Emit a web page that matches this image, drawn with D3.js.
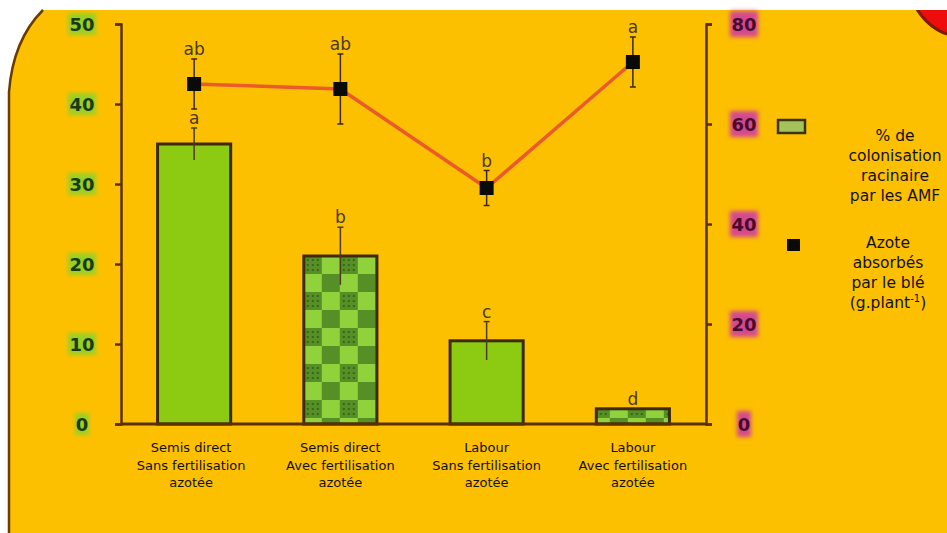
<!DOCTYPE html>
<html>
<head>
<meta charset="utf-8">
<script src="https://cdn.jsdelivr.net/npm/d3@7"></script>
<style>
html,body{margin:0;padding:0;background:#fff;}
svg{display:block;}
</style>
</head>
<body>
<script>
// ---- data ----
const categories = [
  ["Semis direct", "Sans fertilisation", "azotée"],
  ["Semis direct", "Avec fertilisation", "azotée"],
  ["Labour", "Sans fertilisation", "azotée"],
  ["Labour", "Avec fertilisation", "azotée"]
];
const colonisation = [35, 21, 10.4, 1.9];
const colonisationErr = [2, 3.6, 2.4, 0];
const colonisationLetters = ["a", "b", "c", "d"];
const barPatterned = [false, true, false, true];
const azote = [68, 67, 47.2, 72.4];
const azoteErr = [5, 7, 3.5, 5];
const azoteLetters = ["ab", "ab", "b", "a"];
const leftTicks = [0, 10, 20, 30, 40, 50];
const rightTicks = [0, 20, 40, 60, 80];
const legend1 = ["% de", "colonisation", "racinaire", "par les AMF"];
const legend2 = ["Azote", "absorbés", "par le blé"];

const W = 947, H = 533;
const svg = d3.select("body").append("svg").attr("width", W).attr("height", H);
const defs = svg.append("defs");

// filters
const blur = defs.append("filter").attr("id", "blur").attr("x", "-50%").attr("y", "-50%").attr("width", "200%").attr("height", "200%");
blur.append("feGaussianBlur").attr("stdDeviation", 2);
const blurS = defs.append("filter").attr("id", "blurS").attr("x", "-50%").attr("y", "-50%").attr("width", "200%").attr("height", "200%");
blurS.append("feGaussianBlur").attr("stdDeviation", 0.6);

// background
svg.append("rect").attr("width", W).attr("height", H).attr("fill", "#ffffff");
svg.append("path")
  .attr("d", "M9,533 L9,92 Q13,40 43,10 L947,10 L947,533 Z")
  .attr("fill", "#FDC000");
svg.append("circle").attr("cx", 965).attr("cy", -18).attr("r", 55)
  .attr("fill", "#ee1010").attr("stroke", "#7a1a00").attr("stroke-width", 3).attr("filter", "url(#blurS)");
svg.append("rect").attr("x", 0).attr("y", 0).attr("width", W).attr("height", 10).attr("fill", "#ffffff");
svg.append("path")
  .attr("d", "M9,533 L9,92 Q13,40 43,10")
  .attr("fill", "none").attr("stroke", "#6b3c00").attr("stroke-width", 2.5);

// scales
const x = d3.scaleBand().domain(d3.range(categories.length)).range([121, 706]).paddingInner(0.5).paddingOuter(0.25);
const yL = d3.scaleLinear().domain([0, 50]).range([424, 24]);
const yR = d3.scaleLinear().domain([0, 80]).range([424, 24]);

// checkerboard pattern
const cell = 18;
const pat = defs.append("pattern").attr("id", "checker").attr("patternUnits", "userSpaceOnUse")
  .attr("width", cell * 2).attr("height", cell * 2).attr("x", x(1)).attr("y", yL(colonisation[1]));
pat.append("rect").attr("width", cell * 2).attr("height", cell * 2).attr("fill", "#8fd23c");
pat.append("rect").attr("x", 0).attr("y", 0).attr("width", cell).attr("height", cell).attr("fill", "#558f25");
pat.append("rect").attr("x", cell).attr("y", cell).attr("width", cell).attr("height", cell).attr("fill", "#558f25");
for (let i = 0; i < 3; i++) for (let j = 0; j < 3; j++) {
  pat.append("circle").attr("cx", 4 + i * 5).attr("cy", 4 + j * 5).attr("r", 1).attr("fill", "#2f5a15");
}

// bars
const g = svg.append("g");
g.selectAll("rect.bar").data(colonisation).join("rect")
  .attr("class", "bar")
  .attr("x", (d, i) => x(i))
  .attr("y", d => yL(d))
  .attr("width", x.bandwidth())
  .attr("height", d => yL(0) - yL(d))
  .attr("fill", (d, i) => barPatterned[i] ? "url(#checker)" : "#8ccb12")
  .attr("stroke", "#3d2a0c").attr("stroke-width", 3);

// bar error bars
const cx = i => x(i) + x.bandwidth() / 2;
colonisation.forEach((d, i) => {
  if (colonisationErr[i] > 0) {
    g.append("line").attr("x1", cx(i)).attr("x2", cx(i))
      .attr("y1", yL(d + colonisationErr[i])).attr("y2", yL(d - colonisationErr[i]))
      .attr("stroke", "#4a3a20").attr("stroke-width", 1.5);
    g.append("line").attr("x1", cx(i) - 3).attr("x2", cx(i) + 3)
      .attr("y1", yL(d + colonisationErr[i])).attr("y2", yL(d + colonisationErr[i]))
      .attr("stroke", "#4a3a20").attr("stroke-width", 1.5);
  }
  g.append("text").attr("x", cx(i)).attr("y", yL(d + colonisationErr[i]) - 4)
    .attr("text-anchor", "middle").attr("font-family", "DejaVu Sans, sans-serif")
    .attr("font-size", 17).attr("fill", "#4a3818").text(colonisationLetters[i]);
});

// axes
const axL = d3.axisLeft(yL).tickValues(leftTicks).tickFormat("").tickSize(6).tickSizeOuter(6);
const axR = d3.axisRight(yR).tickValues(rightTicks).tickFormat("").tickSize(6).tickSizeOuter(6);
const gL = svg.append("g").attr("transform", "translate(121,0)").call(axL);
const gR = svg.append("g").attr("transform", "translate(706,0)").call(axR);
[gL, gR].forEach(a => {
  a.selectAll("path,line").attr("stroke", "#5a3000").attr("stroke-width", 2.5);
});
svg.append("line").attr("x1", 121).attr("x2", 706).attr("y1", 424).attr("y2", 424)
  .attr("stroke", "#5a3000").attr("stroke-width", 3);

// left tick labels (green glow)
leftTicks.forEach(t => {
  const w = t === 0 ? 14 : 28;
  svg.append("rect").attr("x", 82 - w / 2).attr("y", yL(t) - 11).attr("width", w).attr("height", 22)
    .attr("fill", "#8fd12a").attr("filter", "url(#blur)").attr("opacity", 0.9);
  svg.append("text").attr("x", 82).attr("y", yL(t) + 6.5).attr("text-anchor", "middle")
    .attr("font-family", "DejaVu Sans, sans-serif").attr("font-weight", "bold").attr("font-size", 18)
    .attr("fill", "#1c3a12").text(t);
});
// right tick labels (pink box)
rightTicks.forEach(t => {
  const w = t === 0 ? 14 : 28;
  svg.append("rect").attr("x", 744 - w / 2).attr("y", yR(t) - 13).attr("width", w).attr("height", 26)
    .attr("fill", "#d44a8e").attr("filter", "url(#blur)");
  svg.append("text").attr("x", 744).attr("y", yR(t) + 6.5).attr("text-anchor", "middle")
    .attr("font-family", "DejaVu Sans, sans-serif").attr("font-weight", "bold").attr("font-size", 18)
    .attr("fill", "#4a0a2a").text(t);
});

// line series
const line = d3.line().x((d, i) => cx(i)).y(d => yR(d));
svg.append("path").datum(azote).attr("d", line).attr("fill", "none")
  .attr("stroke", "#ea5a2a").attr("stroke-width", 3.5);
azote.forEach((d, i) => {
  svg.append("line").attr("x1", cx(i)).attr("x2", cx(i))
    .attr("y1", yR(d + azoteErr[i])).attr("y2", yR(d - azoteErr[i]))
    .attr("stroke", "#3a2a18").attr("stroke-width", 1.5);
  [d + azoteErr[i], d - azoteErr[i]].forEach(v => {
    svg.append("line").attr("x1", cx(i) - 3).attr("x2", cx(i) + 3).attr("y1", yR(v)).attr("y2", yR(v))
      .attr("stroke", "#3a2a18").attr("stroke-width", 1.5);
  });
  svg.append("rect").attr("x", cx(i) - 7).attr("y", yR(d) - 7).attr("width", 14).attr("height", 14)
    .attr("fill", "#0a0a0a");
  svg.append("text").attr("x", cx(i)).attr("y", yR(d + azoteErr[i]) - 4)
    .attr("text-anchor", "middle").attr("font-family", "DejaVu Sans, sans-serif")
    .attr("font-size", 17).attr("fill", "#4a3818").text(azoteLetters[i]);
});

// category labels
categories.forEach((lines, i) => {
  const t = svg.append("text").attr("text-anchor", "middle")
    .attr("font-family", "DejaVu Sans, Verdana, sans-serif").attr("font-size", 13).attr("fill", "#111");
  lines.forEach((s, k) => {
    t.append("tspan").attr("x", cx(i) - (i === 0 ? 3 : 0)).attr("y", 452 + k * 17.5).text(s);
  });
});

// legend
svg.append("rect").attr("x", 778).attr("y", 120).attr("width", 27).attr("height", 13)
  .attr("fill", "#a6c25c").attr("stroke", "#3a3510").attr("stroke-width", 2.5);
const lt1 = svg.append("text").attr("text-anchor", "middle")
  .attr("font-family", "DejaVu Sans, Verdana, sans-serif").attr("font-size", 15.5).attr("fill", "#111");
legend1.forEach((s, k) => lt1.append("tspan").attr("x", 895).attr("y", 141 + k * 20).text(s));

svg.append("line").attr("x1", 780).attr("x2", 808).attr("y1", 245).attr("y2", 245)
  .attr("stroke", "#e0501a").attr("stroke-width", 3).attr("filter", "url(#blurS)");
svg.append("rect").attr("x", 787).attr("y", 239).attr("width", 13).attr("height", 12).attr("fill", "#0a0a0a");
const lt2 = svg.append("text").attr("text-anchor", "middle")
  .attr("font-family", "DejaVu Sans, Verdana, sans-serif").attr("font-size", 15.5).attr("fill", "#111");
legend2.forEach((s, k) => lt2.append("tspan").attr("x", 888).attr("y", 248 + k * 20).text(s));
const last = lt2.append("tspan").attr("x", 888).attr("y", 308).text("(g.plant");
last.append("tspan").attr("font-size", 10).attr("dy", -6).text("-1");
lt2.append("tspan").attr("dy", 6).text(")");
</script>
</body>
</html>
